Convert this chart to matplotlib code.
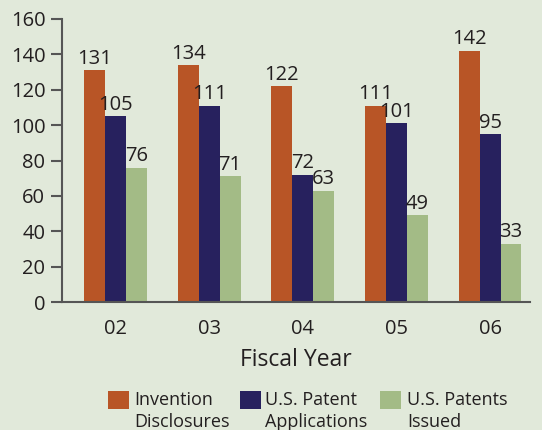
import numpy as np
import matplotlib
matplotlib.use('Agg')
import matplotlib.pyplot as plt
from matplotlib.patches import Rectangle

plt.rcParams['font.family'] = ['Open Sans', 'DejaVu Sans']

years = ['02', '03', '04', '05', '06']
disclosures = [131, 134, 122, 111, 142]
applications = [105, 111, 72, 101, 95]
issued = [76, 71, 63, 49, 33]

series_names = ['Invention\nDisclosures', 'U.S. Patent\nApplications', 'U.S. Patents\nIssued']
colors = ['#b85526', '#27215e', '#a3bb86']
bg = '#e1e9da'
txt = '#231f20'

W, H = 542, 430
fig = plt.figure(figsize=(W / 100, H / 100), dpi=100, facecolor=bg)
ax = fig.add_axes([62 / W, 1 - 302 / H, 468 / W, 283 / H])
ax.set_facecolor(bg)

x = np.arange(len(years))
w = 0.224
for i, (vals, c) in enumerate(zip([disclosures, applications, issued], colors)):
    bars = ax.bar(x + (i - 1) * w, vals, w, color=c, edgecolor='none')
    ax.bar_label(bars, labels=[str(v) for v in vals], padding=1, fontsize=14.5, color=txt)

ax.set_xlim(-0.572, 4.427)
ax.set_ylim(0, 160)
ax.set_yticks(range(0, 161, 20))
ax.set_xticks(x)
ax.set_xticklabels(years)
ax.tick_params(axis='y', direction='out', length=8, width=1.5, color='#555555', labelsize=14.5, labelcolor=txt, pad=4)
ax.tick_params(axis='x', length=0, labelsize=14.5, labelcolor=txt, pad=12)
for s in ['top', 'right']:
    ax.spines[s].set_visible(False)
for s in ['left', 'bottom']:
    ax.spines[s].set_color('#555555')
    ax.spines[s].set_linewidth(1.5)

ax.set_xlabel('Fiscal Year', fontsize=16.5, color=txt, labelpad=7)

# legend drawn by hand: swatch aligned with the first text line
legend_x = [108, 240, 380]
text_x = [134, 265, 407]
for lx, tx, name, c in zip(legend_x, text_x, series_names, colors):
    fig.add_artist(Rectangle((lx / W, 1 - 409 / H), 21 / W, 18 / H, transform=fig.transFigure,
                             facecolor=c, edgecolor='none'))
    fig.text(tx / W, 1 - 391 / H, name, ha='left', va='top', fontsize=13, color=txt, linespacing=1.3)

fig.savefig('out.png', dpi=100, facecolor=bg)
